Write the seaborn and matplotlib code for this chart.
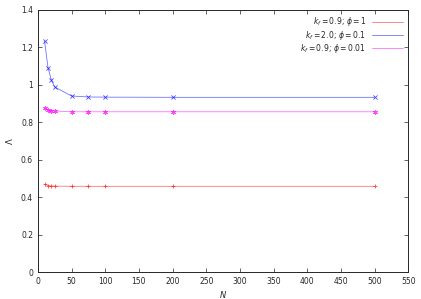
import pandas as pd
import matplotlib
matplotlib.use('Agg')
import matplotlib.pyplot as plt
import seaborn as sns

# data
n_values = [10, 15, 20, 25, 50, 75, 100, 200, 500]
lam_kf09_phi1 = [0.468, 0.462, 0.460, 0.459, 0.458, 0.458, 0.458, 0.458, 0.458]
lam_kf20_phi01 = [1.232, 1.092, 1.025, 0.988, 0.940, 0.935, 0.934, 0.933, 0.933]
lam_kf09_phi001 = [0.875, 0.866, 0.862, 0.860, 0.856, 0.856, 0.856, 0.856, 0.856]

labels = [r'$k_f = 0.9;\, \phi = 1$', r'$k_f = 2.0;\, \phi = 0.1$', r'$k_f = 0.9;\, \phi = 0.01$']
colors = ['#ff0000', '#0000ff', '#ff00ff']
markers = ['+', 'x', (6, 2, 0)]

df = pd.DataFrame({
    'N': n_values * 3,
    'Lambda': lam_kf09_phi1 + lam_kf20_phi01 + lam_kf09_phi001,
    'series': [labels[0]] * 9 + [labels[1]] * 9 + [labels[2]] * 9,
})

sns.set_style('ticks')
plt.rcParams['font.family'] = ['DejaVu Sans']
plt.rcParams['mathtext.fontset'] = 'dejavusans'

fig, ax = plt.subplots(figsize=(4.21, 2.99), dpi=100)

for lab, col, mk in zip(labels, colors, markers):
    sub = df[df['series'] == lab]
    sns.lineplot(data=sub, x='N', y='Lambda', ax=ax, color=col, linewidth=0.6,
                 alpha=0.55, label=lab)
    sns.scatterplot(data=sub, x='N', y='Lambda', ax=ax, color=col, marker=mk,
                    edgecolor=col, s=9, linewidth=0.6, alpha=0.7, legend=False)

ax.set_xlim(0, 550)
ax.set_ylim(0, 1.4)
ax.set_xticks(range(0, 551, 50))
ax.set_yticks([0, 0.2, 0.4, 0.6, 0.8, 1.0, 1.2, 1.4])
ax.set_yticklabels(['0', '0.2', '0.4', '0.6', '0.8', '1', '1.2', '1.4'])
ax.tick_params(direction='in', top=True, right=True, labelsize=5.5, length=3, width=0.5)
for sp in ax.spines.values():
    sp.set_linewidth(0.7)
ax.set_xlabel(r'$N$', fontsize=6, labelpad=2)
ax.set_ylabel(r'$\Lambda$', fontsize=6, labelpad=4)

leg = ax.legend(loc='upper right', frameon=False, fontsize=5.5, markerfirst=False,
                handlelength=4, handletextpad=0.8, labelspacing=0.05,
                borderaxespad=0.3)
for t in leg.get_texts():
    t.set_ha('right')

fig.subplots_adjust(left=0.09, right=0.97, top=0.967, bottom=0.09)
fig.savefig('out.png', dpi=100)
